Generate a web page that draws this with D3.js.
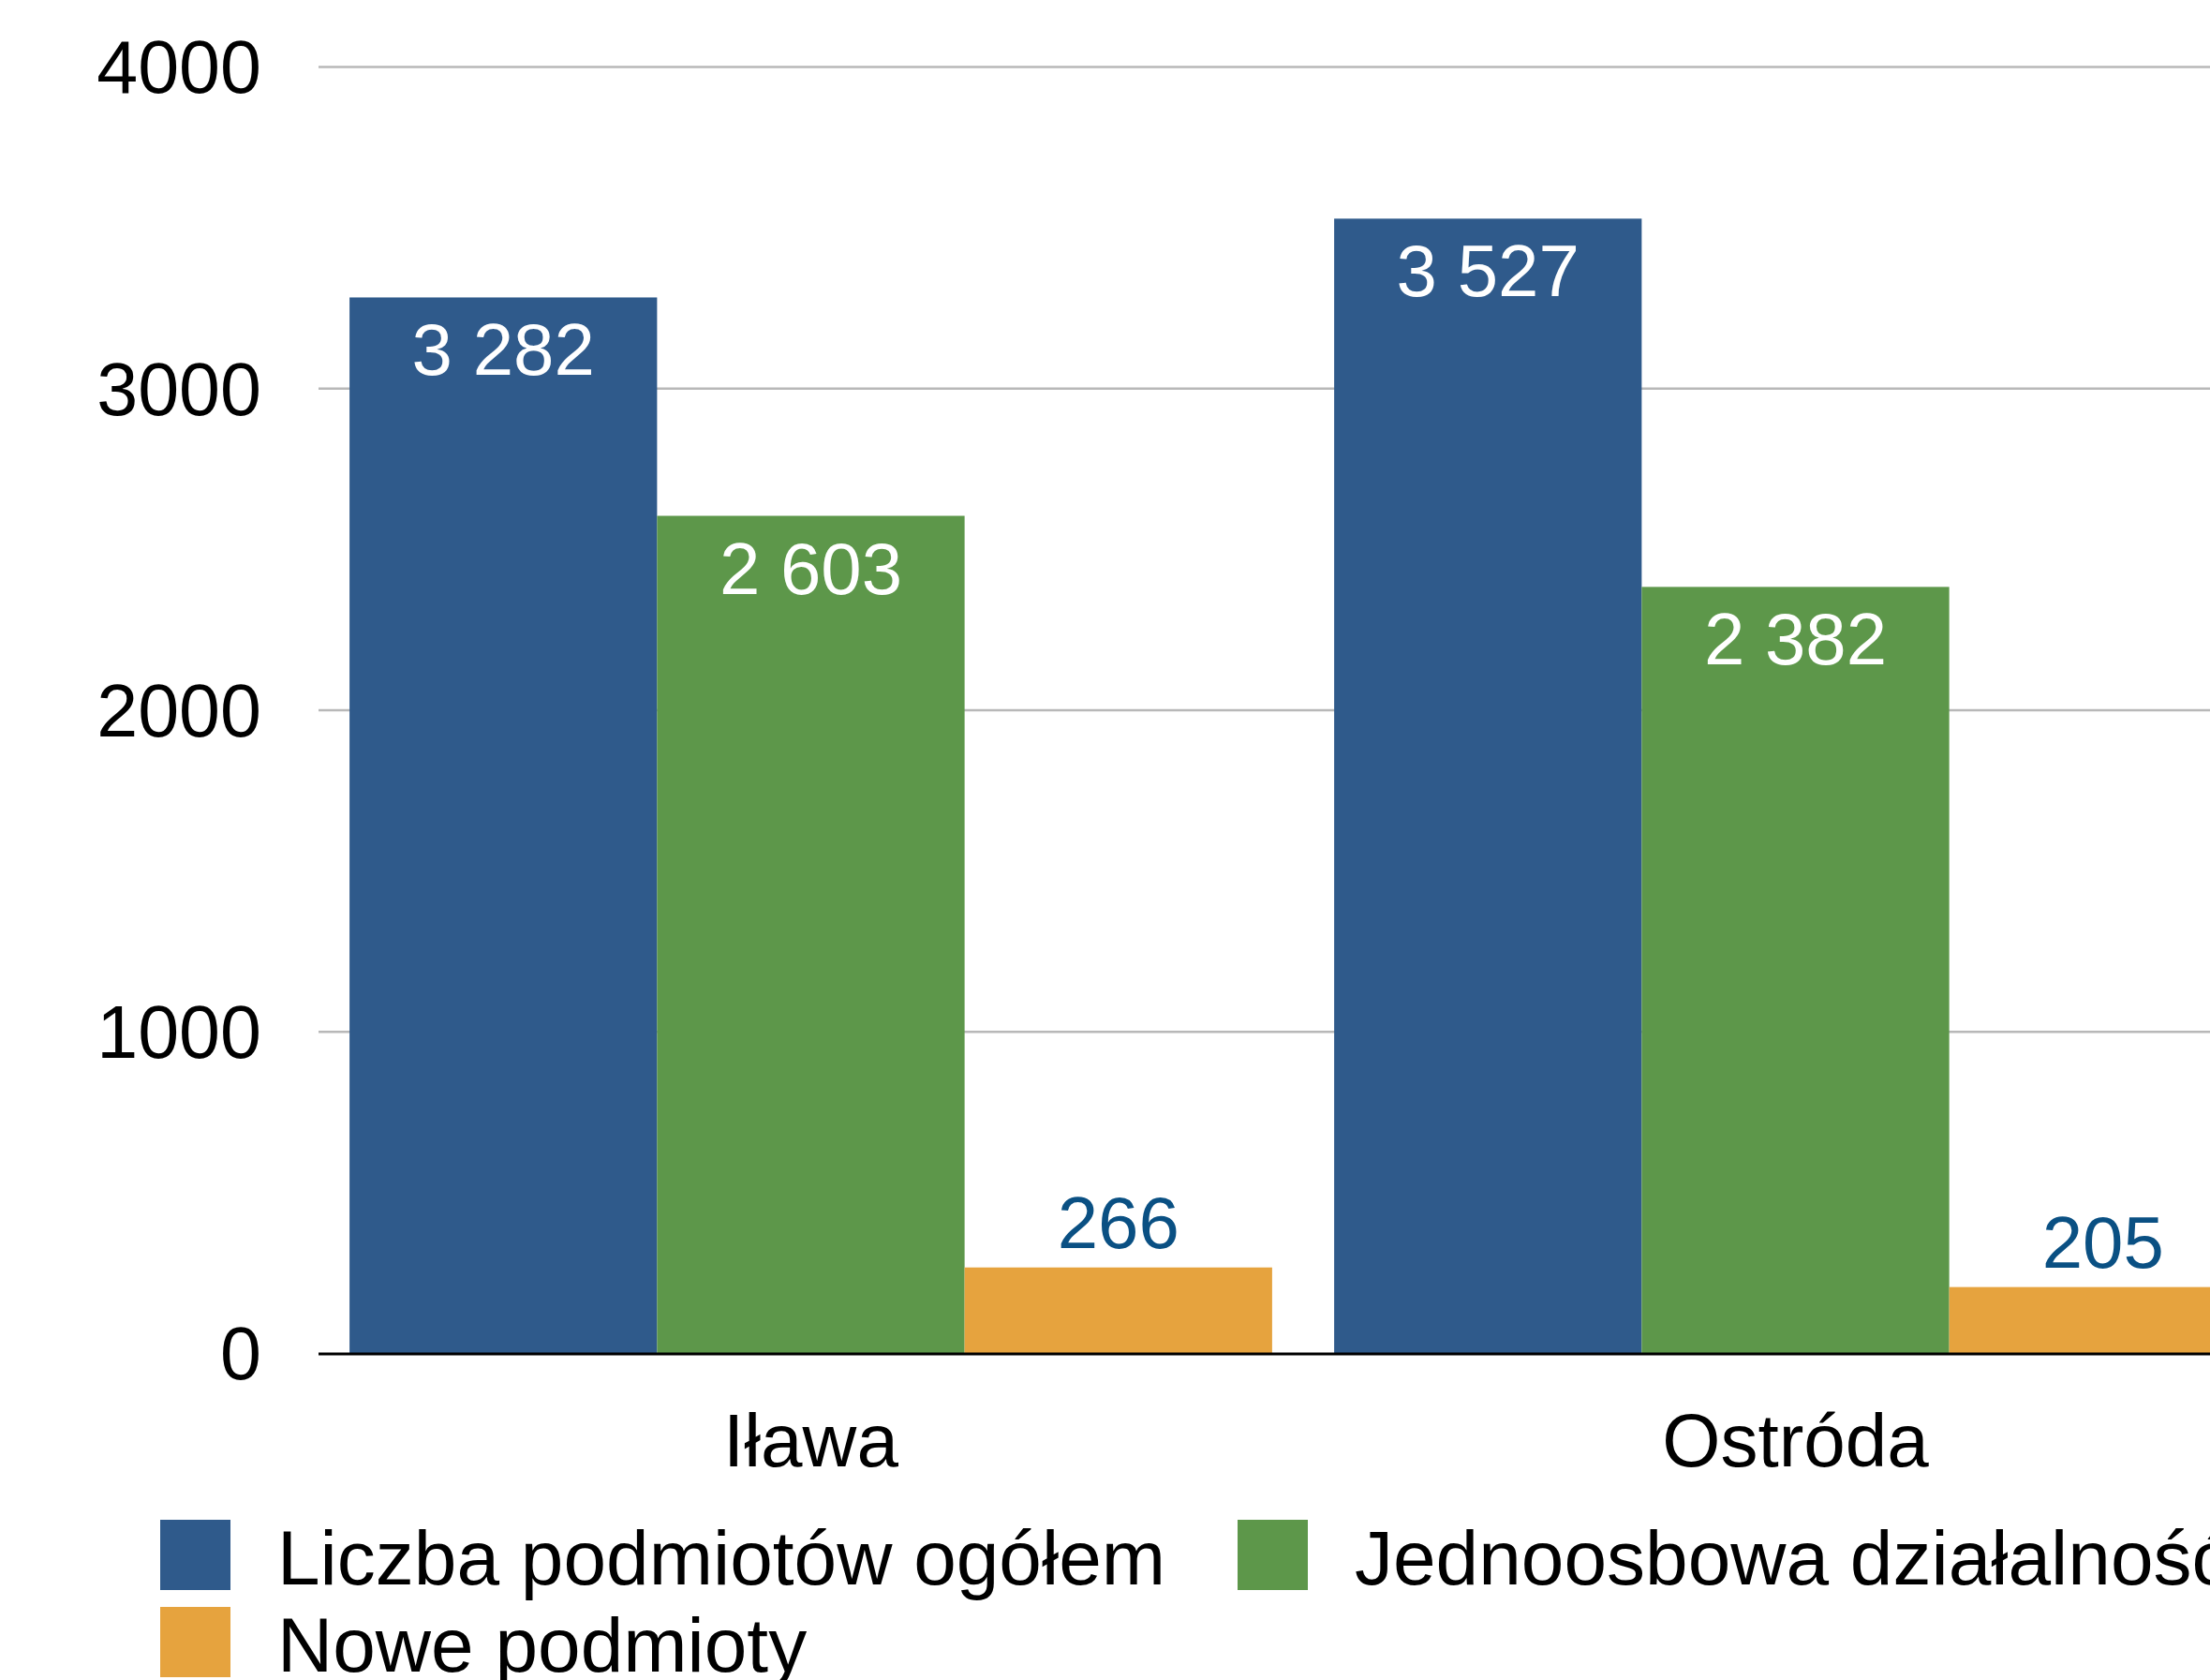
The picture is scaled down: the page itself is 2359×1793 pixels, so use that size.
<!DOCTYPE html>
<html>
<head>
<meta charset="utf-8">
<script src="https://cdn.jsdelivr.net/npm/d3@7"></script>
<style>
  html, body { margin: 0; padding: 0; background: #fff; overflow: hidden; }
  svg { display: block; font-family: "Liberation Sans", Arial, Helvetica, sans-serif; }
</style>
</head>
<body>
<svg id="chart"></svg>
<script>
const categories = ["Iława", "Ostróda"];
const seriesNames = ["Liczba podmiotów ogółem", "Jednoosbowa działalność", "Nowe podmioty"];
const totalEntities = [3282, 3527];
const soleTraders = [2603, 2382];
const newEntities = [266, 205];
const yTicks = [0, 1000, 2000, 3000, 4000];
const seriesColors = ["#2F5A8B", "#5D974A", "#E6A33E"];

const width = 2359;
const height = 1793;
const margin = { left: 340, top: 71, bottom: 1444 };

const series = [totalEntities, soleTraders, newEntities];
const rows = categories.map((c, i) => ({
  category: c,
  values: seriesNames.map((s, j) => ({ key: s, idx: j, value: series[j][i] }))
}));

const pl = d3.formatLocale({ decimal: ",", thousands: " ", grouping: [3], currency: ["", " zł"] });
const fmt = pl.format(",d");

const svg = d3.select("#chart").attr("width", width).attr("height", height);

const y = d3.scaleLinear().domain([0, 4000]).range([margin.bottom, margin.top]);
// bands run past the right edge, the original is cut off there
const x0 = d3.scaleBand().domain(categories).range([margin.left, 2442])
  .paddingInner(0.063).paddingOuter(0.0315);
const x1 = d3.scaleBand().domain(seriesNames).range([0, x0.bandwidth()]);
const color = d3.scaleOrdinal().domain(seriesNames).range(seriesColors);

// grid
svg.append("g")
  .attr("transform", `translate(${margin.left},0)`)
  .call(d3.axisLeft(y).tickValues(yTicks.filter(d => d > 0)).tickSize(-(width - margin.left)).tickFormat(""))
  .call(g => g.select(".domain").remove())
  .call(g => g.selectAll("line").attr("stroke", "#b8b8b8").attr("stroke-width", 2.5));

// y tick labels
svg.append("g")
  .selectAll("text")
  .data(yTicks)
  .join("text")
  .attr("x", 279)
  .attr("y", d => y(d))
  .attr("dy", "0.36em")
  .attr("text-anchor", "end")
  .attr("font-size", 79)
  .attr("fill", "#000")
  .text(d => d);

// bars
const groups = svg.append("g")
  .selectAll("g")
  .data(rows)
  .join("g")
  .attr("transform", d => `translate(${x0(d.category)},0)`);

groups.selectAll("rect")
  .data(d => d.values)
  .join("rect")
  .attr("x", d => x1(d.key))
  .attr("y", d => y(d.value))
  .attr("width", x1.bandwidth())
  .attr("height", d => y(0) - y(d.value))
  .attr("fill", d => color(d.key));

// value labels
groups.selectAll("text")
  .data(d => d.values)
  .join("text")
  .attr("x", d => x1(d.key) + x1.bandwidth() / 2)
  .attr("y", d => (y(0) - y(d.value) > 150) ? y(d.value) + 83 : y(d.value) - 21)
  .attr("text-anchor", "middle")
  .attr("font-size", 78)
  .attr("fill", d => (y(0) - y(d.value) > 150) ? "#fff" : "#0A5083")
  .text(d => fmt(d.value));

// baseline
svg.append("line")
  .attr("x1", margin.left).attr("x2", width)
  .attr("y1", y(0) + 1).attr("y2", y(0) + 1)
  .attr("stroke", "#000").attr("stroke-width", 3);

// category labels
svg.append("g")
  .selectAll("text")
  .data(categories)
  .join("text")
  .attr("x", d => x0(d) + x0.bandwidth() / 2)
  .attr("y", 1565)
  .attr("text-anchor", "middle")
  .attr("font-size", 80)
  .attr("fill", "#000")
  .text(d => d);

// legend, two columns
const legend = svg.append("g")
  .selectAll("g")
  .data(seriesNames)
  .join("g")
  .attr("transform", (d, i) => `translate(${171 + (i % 2) * 1150},${1622 + Math.floor(i / 2) * 93})`);

legend.append("rect")
  .attr("width", 75).attr("height", 75)
  .attr("fill", d => color(d));

legend.append("text")
  .attr("x", 125)
  .attr("y", 69)
  .attr("font-size", 82)
  .attr("fill", "#000")
  .text(d => d);
</script>
</body>
</html>
